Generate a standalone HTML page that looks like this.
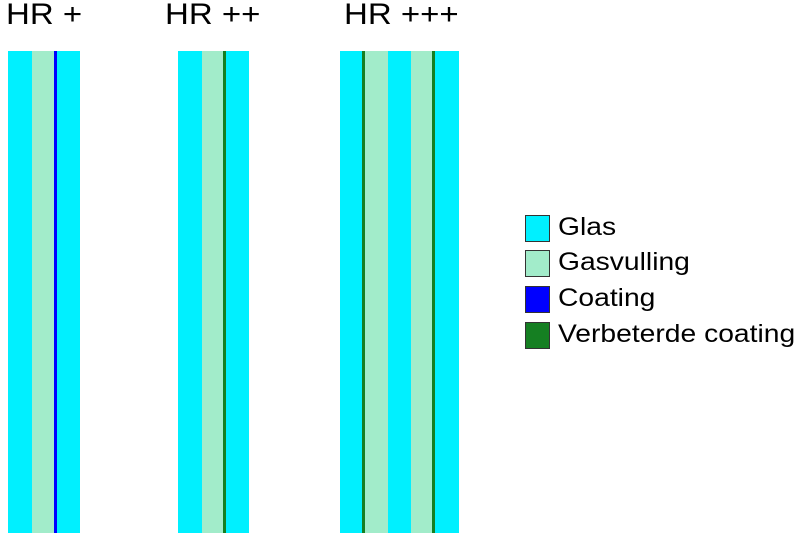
<!DOCTYPE html>
<html><head><style>
body{margin:0;width:806px;height:544px;background:#fff;position:relative;overflow:hidden;font-family:"Liberation Sans",sans-serif}
div{position:absolute}
.g{background:#00f0ff;top:51px;height:482px}
.f{background:#a2ecca;top:51px;height:482px}
.b{background:#0000ff;top:51px;height:482px}
.c{background:#157f22;top:51px;height:482px}
.t{font-size:30px;top:-2px;color:#000;transform:scaleX(1.1);transform-origin:0 0;white-space:nowrap}
.lb{width:23px;height:25px;border:1px solid #333;left:525px}
.lt{font-size:25px;left:558px;transform:scaleX(1.13);transform-origin:0 0;white-space:nowrap}
</style></head><body>
<div class="t" style="left:6px">HR +</div>
<div class="t" style="left:165px">HR ++</div>
<div class="t" style="left:344px">HR +++</div>

<div class="g" style="left:8px;width:24px"></div>
<div class="f" style="left:32px;width:22px"></div>
<div class="b" style="left:54px;width:3px"></div>
<div class="g" style="left:57px;width:23px"></div>

<div class="g" style="left:178px;width:24px"></div>
<div class="f" style="left:202px;width:21px"></div>
<div class="c" style="left:223px;width:3px"></div>
<div class="g" style="left:226px;width:23px"></div>

<div class="g" style="left:340px;width:22px"></div>
<div class="c" style="left:362px;width:3px"></div>
<div class="f" style="left:365px;width:23px"></div>
<div class="g" style="left:388px;width:23px"></div>
<div class="f" style="left:411px;width:21px"></div>
<div class="c" style="left:432px;width:3px"></div>
<div class="g" style="left:435px;width:24px"></div>

<div class="lb" style="top:215px;background:#00f0ff"></div>
<div class="lb" style="top:250px;background:#a2ecca"></div>
<div class="lb" style="top:286px;background:#0000ff"></div>
<div class="lb" style="top:322px;background:#157f22"></div>
<div class="lt" style="top:213px">Glas</div>
<div class="lt" style="top:248px">Gasvulling</div>
<div class="lt" style="top:284px">Coating</div>
<div class="lt" style="top:320px">Verbeterde coating</div>
</body></html>
